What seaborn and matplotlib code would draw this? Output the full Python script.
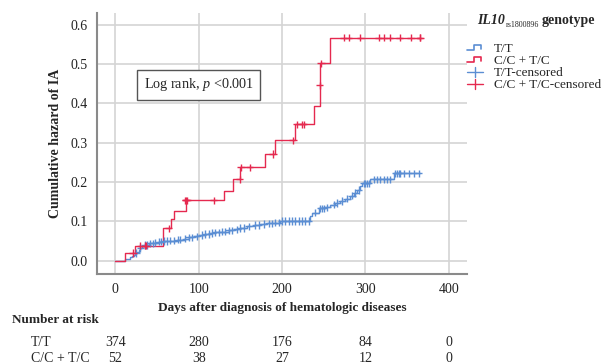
import numpy as np
import pandas as pd
import matplotlib
matplotlib.use("Agg")
import matplotlib.pyplot as plt
import seaborn as sns
from matplotlib.legend_handler import HandlerBase
from matplotlib.lines import Line2D
import matplotlib.transforms as mtransforms

sns.set_theme(style="white")
plt.rcParams['font.family'] = ['Liberation Serif', 'DejaVu Serif']
plt.rcParams['mathtext.fontset'] = 'custom'
plt.rcParams['mathtext.rm'] = 'Liberation Serif'
plt.rcParams['mathtext.it'] = 'Liberation Serif:italic'
plt.rcParams['mathtext.bf'] = 'Liberation Serif:bold'

# ---------------- data ----------------
groups = ["T/T", "C/C + T/C"]

tt_time = [0, 12, 15, 18, 20, 22, 24, 26, 28, 30, 32, 35, 40, 46, 52, 58, 66, 74, 82, 88,
           94, 100, 108, 114, 120, 128, 136, 142, 150, 158, 166, 174, 182, 190, 198,
           234, 236, 244, 252, 258, 264, 270, 276, 282, 286, 290, 293, 296, 306, 334, 366]
tt_hazard = [0.0, 0.003, 0.005, 0.008, 0.011, 0.015, 0.019, 0.023, 0.028, 0.032, 0.036, 0.040,
             0.044, 0.046, 0.048, 0.050, 0.051, 0.053, 0.056, 0.059, 0.062, 0.065, 0.068,
             0.070, 0.072, 0.074, 0.077, 0.080, 0.083, 0.087, 0.091, 0.093, 0.095, 0.097,
             0.101, 0.114, 0.122, 0.133, 0.136, 0.142, 0.147, 0.152, 0.158, 0.165, 0.172,
             0.180, 0.190, 0.197, 0.207, 0.222, 0.222]
tt_censor = [25, 30, 35, 38, 42, 45, 48, 52, 55, 58, 62, 66, 70, 75, 78, 84, 88, 92, 98, 104,
             108, 112, 116, 120, 124, 128, 132, 136, 140, 146, 150, 154, 160, 168, 172, 178,
             184, 188, 192, 196, 200, 204, 208, 212, 216, 220, 224, 228, 232, 240, 246, 248,
             250, 254, 262, 266, 272, 278, 284, 288, 292, 298, 300, 302, 304, 310, 314, 318,
             322, 326, 330, 336, 338, 340, 342, 346, 352, 358, 364]

cc_time = [0, 11, 23, 57, 67, 70, 85, 130, 141, 150, 179, 192, 216, 238, 245, 245, 257, 366]
cc_hazard = [0.0, 0.019, 0.038, 0.082, 0.105, 0.127, 0.153, 0.178, 0.207, 0.237, 0.271,
             0.306, 0.347, 0.394, 0.446, 0.502, 0.567, 0.567]
cc_censor_t = [21, 30, 36, 37, 64, 84, 85, 86, 118, 149, 151, 161, 189, 213, 218, 224, 226,
               245, 247, 274, 280, 294, 316, 322, 329, 341, 355, 365, 366]
cc_censor_h = [0.019, 0.038, 0.038, 0.038, 0.082, 0.153, 0.153, 0.153, 0.153, 0.207, 0.237,
               0.237, 0.271, 0.306, 0.347, 0.347, 0.347, 0.446, 0.502, 0.567, 0.567, 0.567,
               0.567, 0.567, 0.567, 0.567, 0.567, 0.567, 0.567]

risk_times = [0, 100, 200, 300, 400]
risk_tt = [374, 280, 176, 84, 0]
risk_cc = [52, 38, 27, 12, 0]

# ---------------- frames ----------------
curve_df = pd.concat([
    pd.DataFrame({"time": tt_time, "hazard": tt_hazard, "group": groups[0]}),
    pd.DataFrame({"time": cc_time, "hazard": cc_hazard, "group": groups[1]}),
], ignore_index=True)

tt_t = np.array(tt_time)
tt_h = np.array(tt_hazard)
tt_censor_h = [tt_h[np.searchsorted(tt_t, t, side="right") - 1] for t in tt_censor]
censor_df = pd.concat([
    pd.DataFrame({"time": tt_censor, "hazard": tt_censor_h, "group": groups[0]}),
    pd.DataFrame({"time": cc_censor_t, "hazard": cc_censor_h, "group": groups[1]}),
], ignore_index=True)

BLUE = "#5B8ED3"
RED = "#E5294F"
palette = {groups[0]: BLUE, groups[1]: RED}

# ---------------- figure ----------------
W, H = 601, 364
fig = plt.figure(figsize=(W / 100, H / 100), dpi=100)
ax = fig.add_axes([97 / W, 1 - 274 / H, (467 - 97) / W, (274 - 13) / H])

sns.lineplot(data=curve_df, x="time", y="hazard", hue="group", palette=palette,
             drawstyle="steps-post", estimator=None, sort=False, linewidth=1.0,
             legend=False, ax=ax)
sns.scatterplot(data=censor_df, x="time", y="hazard", hue="group", palette=palette,
                marker="+", s=28, linewidth=1.0, legend=False, ax=ax, zorder=3)

ax.set_xlim(-22, 422)
ax.set_ylim(-0.034, 0.63)
ax.set_xticks(risk_times)
ax.set_yticks([0.0, 0.1, 0.2, 0.3, 0.4, 0.5, 0.6])
ax.set_yticklabels([f"{v:.1f}" for v in [0.0, 0.1, 0.2, 0.3, 0.4, 0.5, 0.6]])
ax.grid(True, color="#d4d4d4", linewidth=1.2)
ax.set_axisbelow(True)
for s in ["top", "right"]:
    ax.spines[s].set_visible(False)
for s in ["left", "bottom"]:
    ax.spines[s].set_color("#8a8a8a")
    ax.spines[s].set_linewidth(1.5)
ax.tick_params(axis="both", length=0, labelsize=10, colors="#222222", pad=6.5)
ax.set_xlabel("Days after diagnosis of hematologic diseases", fontsize=9.5,
              fontweight="bold", labelpad=4)
ax.set_ylabel("Cumulative hazard of IA", fontsize=10, fontweight="bold", labelpad=6)

ax.text(100, 0.447, "Log rank, $p$ <0.001", fontsize=10.2, ha="center", va="center",
        bbox=dict(boxstyle="square,pad=0.45", facecolor="white", edgecolor="#555555",
                  linewidth=1.0))

# ---------------- legend ----------------
class StepHandler(HandlerBase):
    def create_artists(self, legend, orig_handle, xdescent, ydescent, width, height,
                       fontsize, trans):
        x0, y0 = -xdescent, -ydescent
        xs = [x0, x0 + 0.4 * width, x0 + 0.4 * width, x0 + 0.85 * width, x0 + 0.85 * width]
        ys = [y0 + 0.2 * height, y0 + 0.2 * height, y0 + 0.75 * height,
              y0 + 0.75 * height, y0 + 0.35 * height]
        ln = Line2D(xs, ys, color=orig_handle.get_color(), linewidth=1.2, transform=trans)
        return [ln]


class PlusHandler(HandlerBase):
    def create_artists(self, legend, orig_handle, xdescent, ydescent, width, height,
                       fontsize, trans):
        x0, y0 = -xdescent, -ydescent
        h = Line2D([x0, x0 + width], [y0 + 0.45 * height] * 2,
                   color=orig_handle.get_color(), linewidth=1.0, transform=trans)
        v = Line2D([x0 + 0.5 * width] * 2, [y0 - 0.1 * height, y0 + 1.0 * height],
                   color=orig_handle.get_color(), linewidth=1.0, transform=trans)
        return [h, v]


h_tt = Line2D([], [], color=BLUE)
h_cc = Line2D([], [], color=RED)
h_ttc = Line2D([], [], color=BLUE, marker="+")
h_ccc = Line2D([], [], color=RED, marker="+")
leg = fig.legend([h_tt, h_cc, h_ttc, h_ccc],
                 ["T/T", "C/C + T/C", "T/T-censored", "C/C + T/C-censored"],
                 handler_map={h_tt: StepHandler(), h_cc: StepHandler(),
                              h_ttc: PlusHandler(), h_ccc: PlusHandler()},
                 loc="upper left", bbox_to_anchor=(467 / W, 1 - 42.5 / H),
                 frameon=False, fontsize=9.5, handlelength=1.25, handleheight=0.7,
                 handletextpad=0.8, labelspacing=0.0, borderpad=0, borderaxespad=0)

# legend title composed of pieces: bold-italic gene, small subscript, bold word
fig.canvas.draw()
renderer = fig.canvas.get_renderer()
x_px, y_px = 477, H - 24
t1 = fig.text(x_px / W, y_px / H, "IL10", fontsize=10, fontweight="bold", style="italic",
              ha="left", va="baseline")
w1 = t1.get_window_extent(renderer).width
t2 = fig.text((x_px + w1 + 1) / W, (y_px - 3) / H, "rs1800896", fontsize=5.8,
              ha="left", va="baseline")
w2 = t2.get_window_extent(renderer).width
fig.text((x_px + w1 + 1 + w2 + 2) / W, y_px / H, "genotype", fontsize=10,
         fontweight="bold", ha="left", va="baseline")

# ---------------- number at risk ----------------
fig.text(12 / W, 1 - 320 / H, "Number at risk", fontsize=9.5, fontweight="bold",
         ha="left", va="center")
fig.text(31 / W, 1 - 342 / H, "T/T", fontsize=10, ha="left", va="center")
fig.text(31 / W, 1 - 359 / H, "C/C + T/C", fontsize=10, ha="left", va="center")
blend = mtransforms.blended_transform_factory(ax.transData, fig.transFigure)
for t, a, b in zip(risk_times, risk_tt, risk_cc):
    ax.text(t, 1 - 342 / H, str(a), transform=blend, fontsize=10, ha="center", va="center",
            clip_on=False)
    ax.text(t, 1 - 359 / H, str(b), transform=blend, fontsize=10, ha="center", va="center",
            clip_on=False)

fig.savefig("out.png", dpi=100)
